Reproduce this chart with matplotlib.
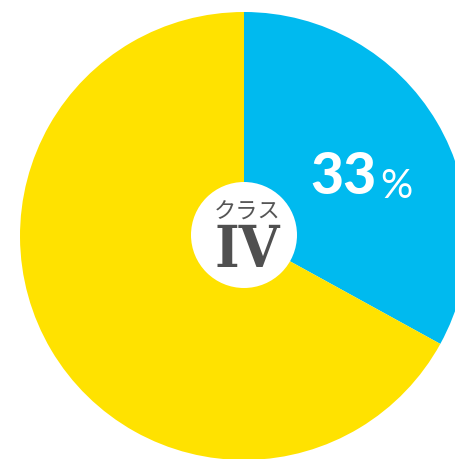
import matplotlib.pyplot as plt
from matplotlib.patches import Circle

# 割合（クラスⅣ とその他）
labels = ['クラスⅣ', 'その他']
shares = [33, 67]
colors = ['#00BAEF', '#FFE200']

fig = plt.figure(figsize=(4.56, 4.59), dpi=100)
ax = fig.add_axes([0, 0, 1, 1])

cx, cy, r = 244, 459 - 236, 224
ax.pie(shares, colors=colors, startangle=90, counterclock=False,
       center=(cx, cy), radius=r, frame=True,
       wedgeprops=dict(linewidth=0, antialiased=True))
ax.set_xlim(0, 456)
ax.set_ylim(0, 459)
ax.axis('off')

# 中央の白い円
ax.add_patch(Circle((cx, cy + 1), 53, facecolor='white', edgecolor='none', zorder=3))
ax.text(247, 459 - 212, 'クラス', family=['Noto Sans CJK JP', 'DejaVu Sans'],
        fontsize=16, color='#555555', ha='center', va='center', zorder=4)
ax.text(247, 459 - 251, 'IV', family='DejaVu Serif', fontweight='bold',
        fontstretch='condensed', fontsize=42, color='#505050',
        ha='center', va='center', zorder=4)

# パーセント表示
ax.text(377, 459 - 178, f'{shares[0]}', family='Lato', fontweight='black',
        fontsize=41, color='white', ha='right', va='center', zorder=4)
ax.text(380, 459 - 186, '%', family='Lato', fontsize=29,
        color='white', ha='left', va='center', zorder=4)

fig.savefig('out.png', dpi=100)
